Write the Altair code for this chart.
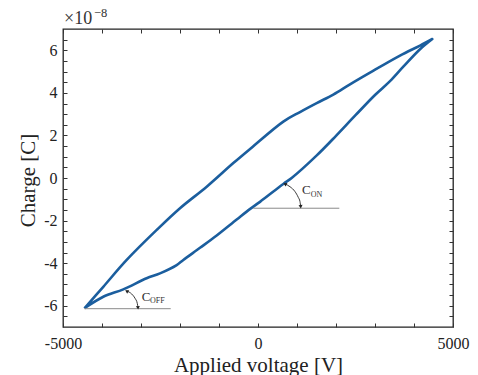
import altair as alt
import pandas as pd

# ---- data (voltage in V, charge in units of 1e-8 C) ----
upper_v = [-4450, -3967, -3367, -2597, -2000, -1315, -633, -180, 649, 1077, 1505, 1931,
           2359, 2872, 3641, 4154, 4470]
upper_q = [-6.12, -5.11, -3.85, -2.44, -1.42, -0.41, 0.70, 1.40, 2.65, 3.10, 3.52, 3.92,
           4.40, 4.95, 5.75, 6.22, 6.53]
lower_v = [4470, 4154, 3726, 3385, 3000, 2500, 2000, 1500, 863, 649, 51, -200, -546, -1059,
           -1487, -1915, -2085, -2513, -2856, -3454, -3967, -4450]
lower_q = [6.53, 6.05, 5.23, 4.55, 3.90, 2.95, 1.98, 1.05, 0.00, -0.28, -1.12, -1.45, -1.95,
           -2.70, -3.28, -3.85, -4.09, -4.48, -4.71, -5.23, -5.58, -6.12]

# reference horizontal lines for the slope annotations
hline_v1 = [-120, -4450]
hline_v2 = [2085, -2238]
hline_q = [-1.42, -6.14]

# curved annotation arcs
arc_on_v = [692, 821, 949, 1033, 1077, 1095]
arc_on_q = [-0.28, -0.41, -0.64, -0.91, -1.11, -1.35]
arc_off_v = [-3367, -3238, -3154, -3095, -3077]
arc_off_q = [-5.31, -5.45, -5.65, -5.89, -6.10]

# arrow heads: position and direction (deg, clockwise from up)
head_v = [692, 1095, -3367, -3077]
head_q = [-0.28, -1.35, -5.31, -6.10]
head_angle = [298, 175, 301, 175]

# annotation labels
lab_text = ["C", "ON", "C", "OFF"]
lab_v = [1128, 1350, -2982, -2769]
lab_q = [-0.77, -0.88, -5.77, -5.86]
lab_size = [13, 8, 13, 8]

x_ticks = [-5000, -4000, -3000, -2000, -1000, 0, 1000, 2000, 3000, 4000, 5000]
y_ticks = [i / 2 for i in range(-13, 14)]

FONT = "Liberation Serif"
BLUE = "#1b5e9e"

loop = pd.DataFrame({
    "V": upper_v + lower_v,
    "Q": upper_q + lower_q,
    "i": list(range(len(upper_v) + len(lower_v))),
})
hl = pd.DataFrame({"v1": hline_v1, "v2": hline_v2, "q": hline_q})
arcs = pd.DataFrame({
    "V": arc_on_v + arc_off_v,
    "Q": arc_on_q + arc_off_q,
    "g": ["on"] * len(arc_on_v) + ["off"] * len(arc_off_v),
    "i": list(range(len(arc_on_v) + len(arc_off_v))),
})
heads = pd.DataFrame({"V": head_v, "Q": head_q, "a": head_angle})
labs = pd.DataFrame({"t": lab_text, "V": lab_v, "Q": lab_q, "s": lab_size})

xs = alt.Scale(domain=[-5000, 5000], nice=False, zero=False)
ys = alt.Scale(domain=[-7, 7], nice=False, zero=False)

common = dict(domain=False, grid=False, tickSize=4, offset=-4, tickColor="#333",
              tickWidth=1, labelFont=FONT, labelFontSize=16, labelColor="#222",
              titleFont=FONT, titleFontSize=21, titleColor="#222", titleFontWeight="normal")

x_bottom = alt.Axis(orient="bottom", values=x_ticks, labelFlush=False,
                    labelExpr="datum.value % 5000 == 0 ? '' + datum.value : ''",
                    labelPadding=8, title="Applied voltage [V]",
                    titleY=48, titleBaseline="alphabetic", **common)
y_left = alt.Axis(orient="left", values=y_ticks,
                  labelExpr="datum.value % 2 == 0 ? '' + datum.value : ''",
                  labelPadding=6, title="Charge [C]", titleX=-33, titleY=151,
                  titleAngle=-90, titleBaseline="alphabetic", **common)
x_top = alt.Axis(orient="top", values=x_ticks, labels=False, title=None, **common)
y_right = alt.Axis(orient="right", values=y_ticks, labels=False, title=None, **common)

curve = alt.Chart(loop).mark_line(color=BLUE, strokeWidth=2.6, strokeJoin="round",
                                  interpolate="catmull-rom").encode(
    x=alt.X("V:Q", scale=xs, axis=x_bottom),
    y=alt.Y("Q:Q", scale=ys, axis=y_left),
    order="i:Q",
)

hlines = alt.Chart(hl).mark_rule(color="#8a8a8a", strokeWidth=1).encode(
    x=alt.X("v1:Q", scale=xs, axis=x_top),
    x2="v2:Q",
    y=alt.Y("q:Q", scale=ys, axis=y_right),
)

arc_lines = alt.Chart(arcs).mark_line(color="#222", strokeWidth=0.9, interpolate="monotone").encode(
    x=alt.X("V:Q", scale=xs, axis=None),
    y=alt.Y("Q:Q", scale=ys, axis=None),
    detail="g:N",
    order="i:Q",
)

arrow_heads = alt.Chart(heads).mark_point(shape="triangle-up", filled=True, color="#222",
                                          size=16, opacity=1).encode(
    x=alt.X("V:Q", scale=xs, axis=None),
    y=alt.Y("Q:Q", scale=ys, axis=None),
    angle=alt.Angle("a:Q", scale=None),
)

labels = alt.Chart(labs).mark_text(font=FONT, color="#333", align="left",
                                   baseline="alphabetic").encode(
    x=alt.X("V:Q", scale=xs, axis=None),
    y=alt.Y("Q:Q", scale=ys, axis=None),
    text="t:N",
    size=alt.Size("s:Q", scale=None, legend=None),
)

exp_base = alt.Chart(pd.DataFrame({"t": ["×10"]})).mark_text(
    font=FONT, fontSize=18, color="#333", align="left", baseline="alphabetic").encode(
    x=alt.value(1), y=alt.value(-5.5), text="t:N")
exp_pow = alt.Chart(pd.DataFrame({"t": ["−8"]})).mark_text(
    font=FONT, fontSize=12.5, color="#333", align="left", baseline="alphabetic").encode(
    x=alt.value(31), y=alt.value(-12), text="t:N")

chart = alt.layer(curve, hlines, arc_lines, arrow_heads, labels, exp_base, exp_pow).resolve_axis(
    x="independent", y="independent"
).properties(
    width=390, height=298,
    autosize=alt.AutoSizeParams(type="none"),
    padding={"left": 63, "top": 29, "right": 25, "bottom": 48},
).configure_view(stroke="#222", strokeWidth=1.3)

chart.save("out.html", embed_options={"renderer": "svg", "actions": False})
